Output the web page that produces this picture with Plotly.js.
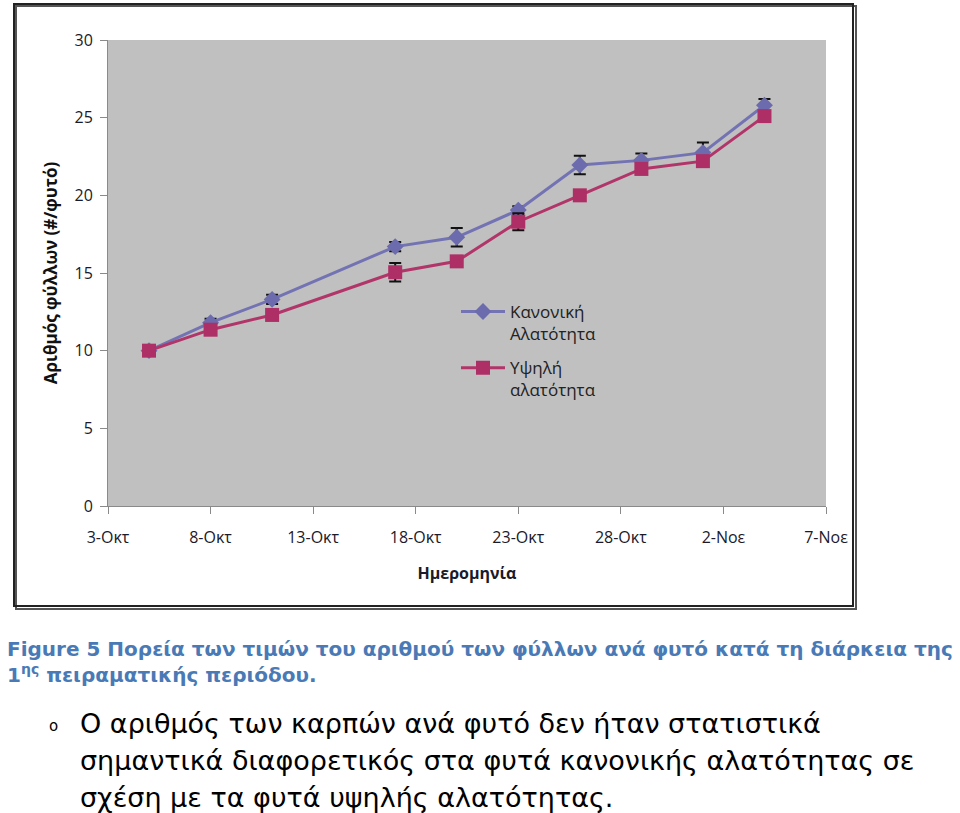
<!DOCTYPE html>
<html>
<head>
<meta charset="utf-8">
<script src="https://cdn.plot.ly/plotly-3.0.1.min.js"></script>
<style>
html,body{margin:0;padding:0;background:#fff;}
#chart{width:960px;height:813px;}
</style>
</head>
<body>
<div id="chart"></div>
<script>
// ---- data ----
const dates = ["2009-10-05","2009-10-08","2009-10-11","2009-10-17","2009-10-20","2009-10-23","2009-10-26","2009-10-29","2009-11-01","2009-11-04"];
const normalSalinity = [10.0, 11.8, 13.3, 16.7, 17.3, 19.05, 21.95, 22.25, 22.75, 25.8];
const normalErr      = [0.15, 0.25, 0.3, 0.3, 0.6, 0.25, 0.6, 0.45, 0.65, 0.4];
const highSalinity   = [10.0, 11.35, 12.3, 15.05, 15.75, 18.3, 20.0, 21.7, 22.2, 25.1];
const highErr        = [0.1, 0.2, 0.2, 0.6, 0.2, 0.55, 0.2, 0.2, 0.2, 0.3];
const tickDates  = ["2009-10-03","2009-10-08","2009-10-13","2009-10-18","2009-10-23","2009-10-28","2009-11-02","2009-11-07"];
const tickLabels = ["3-Οκτ","8-Οκτ","13-Οκτ","18-Οκτ","23-Οκτ","28-Οκτ","2-Νοε","7-Νοε"];
const seriesNames = ["Κανονική<br>Αλατότητα","Υψηλή<br>αλατότητα"];

// ---- layout geometry ----
const W = 960, H = 813;
const L = 108, R = 134, T = 40, B = 307;
const PW = W - L - R, PH = H - T - B;
const fx = px => (px - L) / PW;
const fy = py => (H - B - py) / PH;

const blue = "#7373b4", red = "#b23569";
const chartFont = "Open Sans, Noto Sans, sans-serif";

const traces = [
  {
    x: dates, y: normalSalinity, name: seriesNames[0], legendgroup: "normal",
    type: "scatter", mode: "lines+markers",
    line: {color: blue, width: 3},
    marker: {symbol: "diamond", size: 13, color: "#6b6bae"},
    error_y: {type: "data", array: normalErr, visible: true, color: "#111", thickness: 2, width: 6}
  },
  {
    x: dates, y: highSalinity, name: seriesNames[1], legendgroup: "high",
    type: "scatter", mode: "lines+markers",
    line: {color: red, width: 3},
    marker: {symbol: "square", size: 14, color: "#ad2f65"},
    error_y: {type: "data", array: highErr, visible: true, color: "#111", thickness: 2, width: 6}
  }
];

const caption = "<b>Figure 5 Πορεία των τιμών του αριθμού των φύλλων ανά φυτό κατά τη διάρκεια της</b>" +
                "<br><b>1<sup>ης</sup> πειραματικής περιόδου.</b>";
const body = [
  "Ο αριθμός των καρπών ανά φυτό δεν ήταν στατιστικά",
  "σημαντικά διαφορετικός στα φυτά κανονικής αλατότητας σε",
  "σχέση με τα φυτά υψηλής αλατότητας."
];

const annotations = [
  {text: caption, x: fx(5), y: fy(662), xanchor: "left", yanchor: "middle", align: "left",
   font: {family: "DejaVu Sans", size: 20, color: "#4a7ab6"}},
  {text: "o", x: fx(53), y: fy(726), xanchor: "center", yanchor: "middle",
   font: {family: "DejaVu Sans", size: 15, color: "#000"}},
];
const bodyY = [723, 760, 797];
body.forEach((t, i) => annotations.push({
  text: t, x: fx(78), y: fy(bodyY[i]), xanchor: "left", yanchor: "middle",
  font: {family: "DejaVu Sans", size: 27, color: "#000"}
}));
annotations.forEach(a => { a.xref = "paper"; a.yref = "paper"; a.showarrow = false; });

const layout = {
  width: W, height: H,
  margin: {l: L, r: R, t: T, b: B, pad: 0},
  paper_bgcolor: "#ffffff",
  plot_bgcolor: "#c0c0c0",
  font: {family: chartFont, size: 15, color: "#1a1a2a"},
  showlegend: true,
  legend: {
    x: fx(456), y: fy(294), xanchor: "left", yanchor: "top",
    bgcolor: "rgba(0,0,0,0)", valign: "top", traceorder: "grouped",
    font: {family: chartFont, size: 17, color: "#222"},
    tracegroupgap: 9, itemwidth: 44
  },
  xaxis: {
    type: "date",
    range: ["2009-10-03", "2009-11-07"],
    tickmode: "array", tickvals: tickDates, ticktext: tickLabels,
    ticks: "outside", ticklen: 7, tickcolor: "#8a8a8a", tickwidth: 1,
    showline: true, linecolor: "#8a8a8a", linewidth: 1,
    showgrid: false, zeroline: false,
    tickfont: {family: chartFont, size: 16, color: "#1a1a2a"},
    ticklabelstandoff: 10,
    title: {text: "<b>Ημερομηνία</b>", font: {family: chartFont, size: 16, color: "#1a1a2a"}, standoff: 20},
    automargin: false, fixedrange: true
  },
  yaxis: {
    range: [0, 30], dtick: 5, tick0: 0,
    ticks: "outside", ticklen: 7, tickcolor: "#8a8a8a", tickwidth: 1,
    showline: true, linecolor: "#8a8a8a", linewidth: 1,
    showgrid: false, zeroline: false,
    tickfont: {family: chartFont, size: 16, color: "#1a1a2a"},
    ticklabelstandoff: 4,
    title: {text: "<b>Αριθμός φύλλων (#/φυτό)</b>", font: {family: chartFont, size: 17, color: "#111"}, standoff: 12},
    automargin: false, fixedrange: true
  },
  shapes: [
    {type: "rect", xref: "paper", yref: "paper", x0: fx(16), x1: fx(856), y0: fy(609), y1: fy(6),
     line: {color: "#555", width: 2}, fillcolor: "rgba(0,0,0,0)", layer: "below"},
    {type: "rect", xref: "paper", yref: "paper", x0: fx(14), x1: fx(853), y0: fy(606), y1: fy(4),
     line: {color: "#222", width: 2}, fillcolor: "rgba(0,0,0,0)", layer: "below"}
  ],
  annotations: annotations
};

Plotly.newPlot("chart", traces, layout, {displayModeBar: false, staticPlot: true});
</script>
</body>
</html>
